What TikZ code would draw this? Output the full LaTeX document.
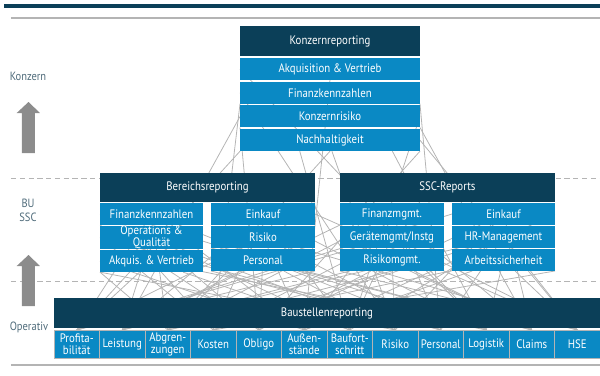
\documentclass[tikz,border=0pt]{standalone}
\usepackage{fontspec}
\setsansfont{PT Sans}[FakeStretch=0.88]
\usetikzlibrary{positioning,backgrounds}
\definecolor{kopf}{HTML}{0B3F58}
\definecolor{feld}{HTML}{0A89C4}
\definecolor{netz}{HTML}{B4B4B4}
\definecolor{pfeil}{HTML}{8C8C8C}
\definecolor{ebene}{HTML}{4F6B7A}
\begin{document}
\begin{tikzpicture}[x=0.02cm,y=-0.02cm,
                    txt/.style={font=\sffamily\fontsize{7}{6.9}\selectfont,text=white,align=center,inner sep=0pt,outer sep=0pt},
                    kopfbox/.style={txt,fill=kopf,minimum height=0.6cm},
                    feldbox/.style={txt,fill=feld,minimum height=0.44cm},
                    opbox/.style={txt,fill=feld,draw=netz,line width=0.5pt,minimum width=0.91cm,minimum height=0.56cm},
                    ebenentxt/.style={font=\sffamily\fontsize{6.8}{7.8}\selectfont,text=ebene,align=center},
                    netzlinie/.style={draw=netz,line width=0.45pt},
                    trenn/.style={draw=netz,line width=0.55pt,densely dashed}]
                    % \draw[help lines,step=50] (0,0) grid (600,376);
                    \useasboundingbox (0,0) rectangle (600,376);
                    \fill[kopf] (4,4) rectangle (600,7.5);
                    \draw[netz,line width=0.6pt] (11,18) -- (600,18);
                    \draw[netz,line width=0.6pt] (11,365) -- (600,365);
                    \draw[trenn] (11,178) -- (600,178);
                    \draw[trenn] (11,281) -- (600,281);
                    \foreach \yy in {0,153}
                        \fill[pfeil] (22,153+\yy) --++(0,-40) --++(-5.3,0) -- (28.5,102+\yy) -- (40,113+\yy) --++(-5,0) -- (35,153+\yy) -- cycle;
                    \node[ebenentxt] (lkonz) at (28,76) {Konzern};
                    \node[ebenentxt] (lbu) at (28,210) {BU\\SSC};
                    \node[ebenentxt] (lop) at (29,327) {Operativ};
                    \node[kopfbox,minimum width=3.6cm] (konz) at (330,41) {Konzernreporting};
                    \node[feldbox,minimum width=3.6cm,below=0.04cm of konz] (k1) {Akquisition \& Vertrieb};
                    \node[feldbox,minimum width=3.6cm,below=0.035cm of k1] (k2) {Finanzkennzahlen};
                    \node[feldbox,minimum width=3.6cm,below=0.035cm of k2] (k3) {Konzernrisiko};
                    \node[feldbox,minimum width=3.6cm,below=0.035cm of k3] (k4) {Nachhaltigkeit};
                    \node[kopfbox,minimum width=4.3cm,minimum height=0.58cm] (bereich) at (207.5,187.5) {Bereichsreporting};
                    \node[feldbox,minimum width=2.06cm] (bf1) at (151.5,214) {Finanzkennzahlen};
                    \node[feldbox,minimum width=2.06cm,below=0.02cm of bf1] (bf2) {Operations \&\\Qualität};
                    \node[feldbox,minimum width=2.06cm,below=0.02cm of bf2] (bf3) {Akquis. \& Vertrieb};
                    \node[feldbox,minimum width=2.08cm] (br1) at (263,214) {Einkauf};
                    \node[feldbox,minimum width=2.08cm,below=0.02cm of br1] (br2) {Risiko};
                    \node[feldbox,minimum width=2.08cm,below=0.02cm of br2] (br3) {Personal};
                    \node[kopfbox,minimum width=4.3cm,minimum height=0.58cm] (ssc) at (447.5,187.5) {SSC-Reports};
                    \node[feldbox,minimum width=2.08cm] (sf1) at (392,214) {Finanzmgmt.};
                    \node[feldbox,minimum width=2.08cm,below=0.02cm of sf1] (sf2) {Gerätemgmt/Instg};
                    \node[feldbox,minimum width=2.08cm,below=0.02cm of sf2] (sf3) {Risikomgmt.};
                    \node[feldbox,minimum width=2.06cm] (sr1) at (503.5,214) {Einkauf};
                    \node[feldbox,minimum width=2.06cm,below=0.02cm of sr1] (sr2) {HR-Management};
                    \node[feldbox,minimum width=2.06cm,below=0.02cm of sr2] (sr3) {Arbeitssicherheit};
                    \node[kopfbox,minimum width=10.92cm] (bau) at (327,313) {Baustellenreporting};
                    \foreach \n [count=\i] in {{Profita-\\bilität},Leistung,{Abgren-\\zungen},Kosten,Obligo,{Außen-\\stände},{Baufort-\\schritt},Risiko,Personal,Logistik,Claims,HSE}
                        \node[opbox] (b\i) at (54+45.5*\i-22.75,344) {\n};
                    \begin{scope}[on background layer]
                        \foreach \s/\t in {1/k4.south west,1/bf1,1/bf3,1/br2,1/sf2,1/sr1.west,1/br3.south east,
                                           2/k3.west,2/bf2,2/br1,2/br3,2/sf3,2/sf1.south west,2/sr2,
                                           3/k4.south,3/bf1,3/br2,3/sf1,3/sr3,3/bf3.south west,3/sf3.south,
                                           4/k2.south west,4/bf3,4/br1,4/sf2,4/sr2,4/bf2.west,4/sr3.south east,
                                           5/k4.south east,5/bf2,5/br3,5/sf3,5/sr1,5/bf1.south west,5/k3.south west,
                                           6/k1.south,6/bf1,6/br2,6/sf1,6/sr3,6/bf3.west,6/sr1.east,
                                           7/k3.east,7/bf3,7/br1,7/sf2,7/sr2,7/bf1.west,7/k4.200,
                                           8/k4.280,8/bf2,8/br3,8/sf3,8/sr1,8/bf3.south west,8/k2.west,
                                           9/k2.south east,9/bf1,9/br2,9/sf1,9/sr2,9/bf2.west,9/br3.south west,
                                           10/k4.-10,10/bf3,10/br1,10/sf2,10/sr3,10/bf1.south,10/k1.west,
                                           11/k3.south east,11/br3,11/sf3,11/sr1,11/sf1,11/br2.south west,11/sf2.west,
                                           12/k4.east,12/br2,12/sf2,12/sr2,12/sr3,12/sf3.south west,12/br1.east}
                            \draw[netzlinie] (b\s.north) -- (\t);
                    \end{scope}
                \end{tikzpicture}
\end{document}
